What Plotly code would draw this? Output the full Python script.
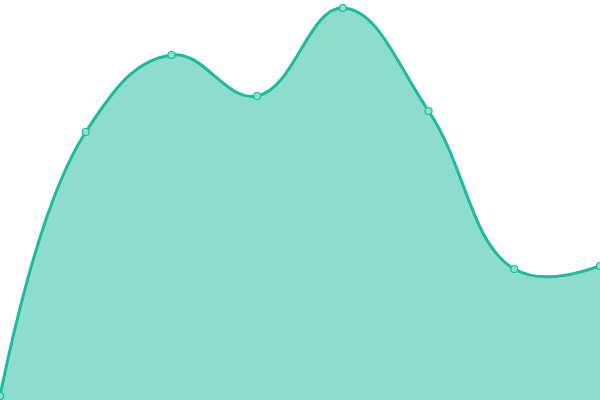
import plotly.graph_objects as go

labels = ["A", "B", "C", "D", "E", "F", "G", "H"]
values = [4, 268, 345, 304, 392, 289, 131, 134]

fig = go.Figure()
fig.add_trace(go.Scatter(
    x=labels, y=values,
    mode="lines+markers",
    line=dict(color="#1abc9c", width=3, shape="spline", smoothing=1.2),
    fill="tozeroy",
    fillcolor="rgba(26,188,156,0.5)",
    marker=dict(size=7, color="#8be0d0", line=dict(color="#1abc9c", width=1.2)),
    cliponaxis=False,
))

fig.update_layout(
    width=600, height=400,
    margin=dict(l=0, r=0, t=0, b=0),
    paper_bgcolor="white", plot_bgcolor="white",
    showlegend=False,
    xaxis=dict(visible=False, range=[0, 7]),
    yaxis=dict(visible=False, range=[0, 400]),
)

# drop the default page margin so the chart sits flush in the window
fig.write_html("out.html", config={"displayModeBar": False},
               post_script="document.body.style.margin='0';")
